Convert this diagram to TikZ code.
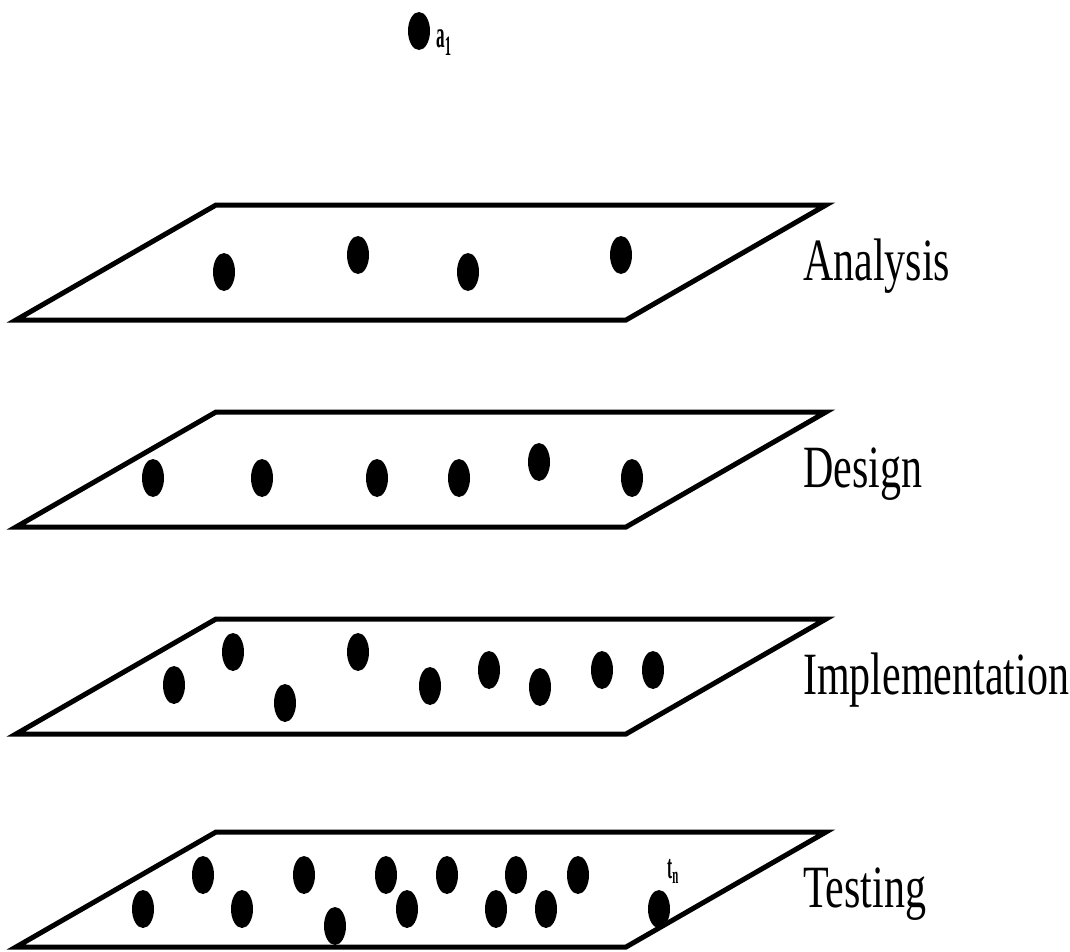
\documentclass[tikz,border=0pt]{standalone}
\usepackage{fontspec}
\usepackage{tikz}
\usetikzlibrary{calc}
\newfontfamily\lblfont[FakeStretch=0.7]{Liberation Serif}
\newfontfamily\subfont[FakeStretch=0.45]{Liberation Serif}

\begin{document}
\begin{tikzpicture}[x=1pt,y=-1pt,
    plane/.style={draw=black,line width=5pt,line join=miter},
    dot/.style={fill=black},
    lbl/.style={anchor=base west,inner sep=0pt,font=\lblfont\fontsize{60}{60}\selectfont}]
        \useasboundingbox (0,0) rectangle (1070,951);
        % the lone element above the planes
        \fill[dot] (419,31) ellipse [x radius=11,y radius=19];
        \node[anchor=base west,inner sep=0pt] (a1) at (436,47)
            {\subfont\bfseries\fontsize{38}{38}\selectfont a\raisebox{-8pt}{\fontsize{28}{28}\selectfont 1}};
        % planes and their names
        \foreach \y/\name in {205/Analysis,412/Design,619/Implementation,832/Testing}
        {
        \draw[plane,shift={(0,\y)}] (216,0) -- (826,0) -- (626,115) -- (16,115) -- cycle;
        \node[lbl] (\name) at (803,\y+75) {\name};
        }
        % dots on each plane
        \foreach \x/\y in {224/272,358/255,468/272,621/255}
        \fill[dot] (\x,\y) ellipse [x radius=11,y radius=19];
        \foreach \x/\y in {153/478,262/478,377/478,459/478,539/462,632/478}
        \fill[dot] (\x,\y) ellipse [x radius=11,y radius=19];
        \foreach \x/\y in {174/685,233/652,285/703,358/652,430/686,489/670,540/687,602/670,653/670}
        \fill[dot] (\x,\y) ellipse [x radius=11,y radius=19];
        \foreach \x/\y in {143/909,203/875,242/909,304/875,335/926,386/875,407/909,447/875,496/909,516/875,546/909,578/875,659/909}
        \fill[dot] (\x,\y) ellipse [x radius=11,y radius=19];
        \node[anchor=base west,inner sep=0pt] (tn) at (667,878)
            {\subfont\bfseries\fontsize{34}{34}\selectfont t\raisebox{-5pt}{\fontsize{24}{24}\selectfont n}};
    \end{tikzpicture}
\end{document}
